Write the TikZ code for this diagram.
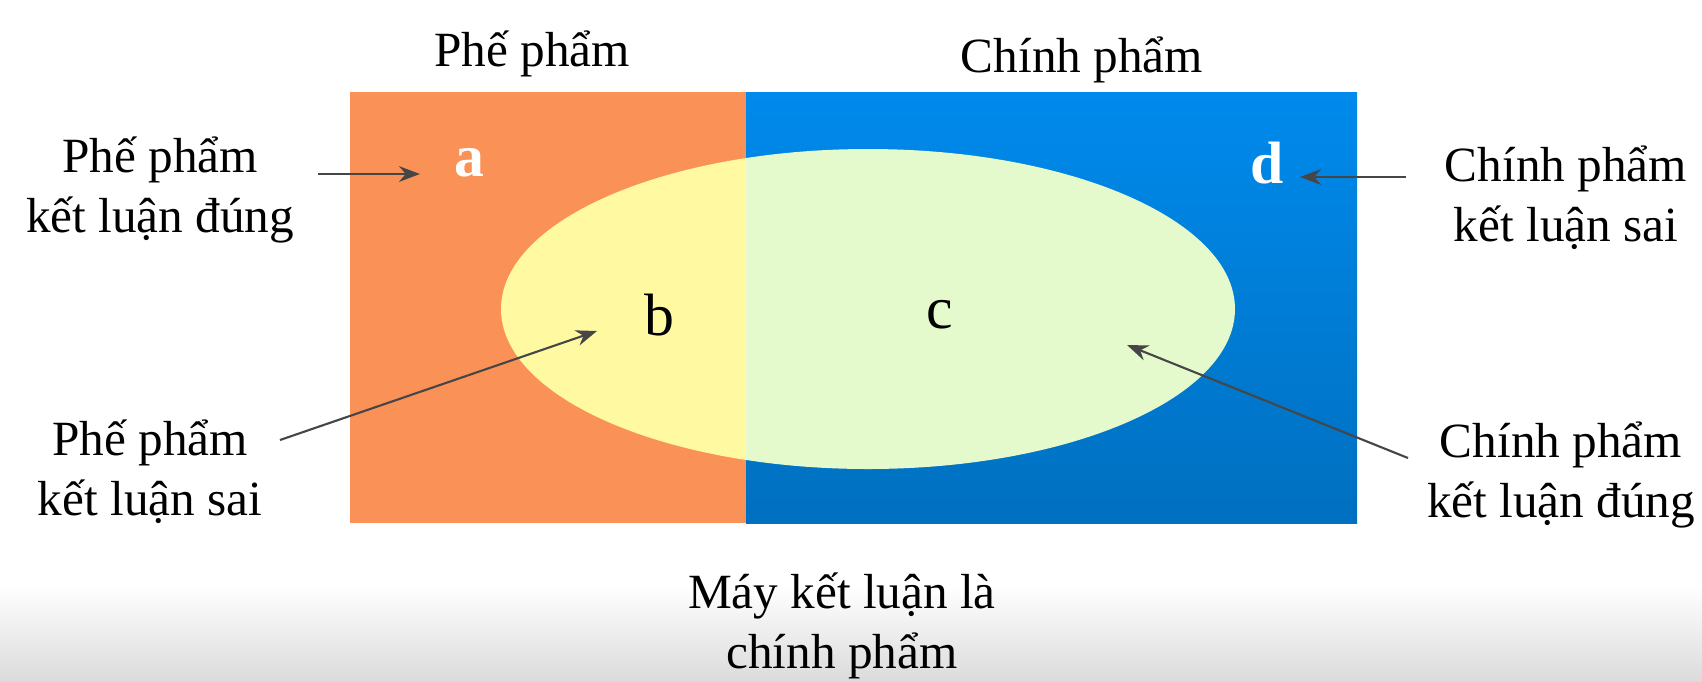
\documentclass[tikz,border=0pt]{standalone}
\usepackage{fontspec}
\setmainfont{Liberation Serif}
\usetikzlibrary{arrows.meta}
\definecolor{rejOrange}{RGB}{250,146,88}
\definecolor{okBlueTop}{RGB}{0,138,236}
\definecolor{okBlueBot}{RGB}{0,112,192}
\definecolor{ovalYellow}{RGB}{255,250,162}
\definecolor{ovalGreen}{RGB}{228,250,204}
\definecolor{pointer}{RGB}{70,70,70}
\begin{document}
\begin{tikzpicture}[x=0.01cm,y=-0.01cm,
  lbl/.style={font=\fontsize{14}{17}\selectfont, align=center, inner sep=0pt},
  cell/.style={font=\fontsize{17}{20}\selectfont, inner sep=0pt},
  ptr/.style={draw=pointer, line width=0.6pt, -{Stealth[length=6pt,width=4.5pt]}}]

\useasboundingbox (0,0) rectangle (1702,681);
\shade[top color=white, bottom color=black!14] (0,586) rectangle (1702,681);

\pgfmathsetmacro{\midX}{746}
\fill[rejOrange] (350,92) rectangle (\midX,523);
\shade[top color=okBlueTop, bottom color=okBlueBot] (\midX,92) rectangle (1357,523);

\draw[draw=none,save path=\oval] (868,309) ellipse [x radius=367, y radius=160];
\begin{scope}
\clip (0,0) rectangle (\midX,681);
\fill[ovalYellow, use path=\oval];
\end{scope}
\begin{scope}
\clip (\midX,0) rectangle (1702,681);
\fill[ovalGreen, use path=\oval];
\end{scope}

\node[lbl] (ttlRej) at (532,54) {Phế phẩm};
\node[lbl] (ttlOk) at (1082,60) {Chính phẩm};
\node[lbl] (lblA) at (160,190) {Phế phẩm\\kết luận đúng};
\node[lbl] (lblD) at (1566,198) {Chính phẩm\\kết luận sai};
\node[lbl] (lblB) at (150,472) {Phế phẩm\\kết luận sai};
\node[lbl] (lblC) at (1561,475) {Chính phẩm\\kết luận đúng};
\node[lbl] (lblMachine) at (842,626) {Máy kết luận là\\chính phẩm};

\node[cell, text=white, font=\fontsize{17}{20}\selectfont\bfseries] (a) at (469,163) {a};
\node[cell, text=white, font=\fontsize{17}{20}\selectfont\bfseries] (d) at (1267,163) {d};
\node[cell] (b) at (659,315) {b};
\node[cell] (c) at (940,315) {c};

\coordinate (tailA) at (318,174);  \coordinate (tipA) at (420,174);
\coordinate (tailD) at (1406,177); \coordinate (tipD) at (1300,177);
\coordinate (tailB) at (280,440);  \coordinate (tipB) at (597,331);
\coordinate (tailC) at (1408,458); \coordinate (tipC) at (1127,345);
\foreach \p in {A,B,C,D} {\draw[ptr] (tail\p) -- (tip\p);}

\end{tikzpicture}
\end{document}
